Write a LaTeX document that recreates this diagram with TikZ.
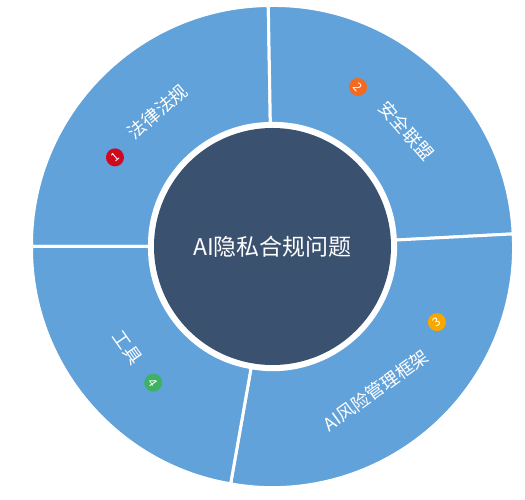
\documentclass[tikz,border=0pt]{standalone}
\usepackage{fontspec}
\setmainfont{Noto Sans CJK SC}
\definecolor{ringblue}{HTML}{62A2DA}
\definecolor{hubnavy}{HTML}{3B5170}
\definecolor{badgered}{HTML}{D00A1E}
\definecolor{badgeorange}{HTML}{F26B21}
\definecolor{badgeamber}{HTML}{F6A800}
\definecolor{badgegreen}{HTML}{3DB262}
\tikzset{
    sector/.style={fill=ringblue,draw=white,line width=3pt,rounded corners=2pt},
    hub/.style={circle,fill=hubnavy,draw=none,minimum size=237pt,inner sep=0pt,text=white,font=\fontsize{23}{23}\selectfont},
    seglabel/.style={text=white,inner sep=0pt,font=\fontsize{18}{18}\selectfont},
    badge/.style={circle,minimum size=18pt,inner sep=0pt,text=white,font=\fontsize{12}{12}\selectfont}
}
\begin{document}
\begin{tikzpicture}
    \useasboundingbox (-272.5pt,-253.5pt) rectangle (252.5pt,246.5pt);
    %% ring segments
    \foreach \a/\b in {91/180,3/91,-100/3,180/260}
        \draw[sector] (\a:123pt) arc[start angle=\a,end angle=\b,radius=123pt]
            -- (\b:241pt) arc[start angle=\b,end angle=\a,radius=241pt] -- cycle;
    %% hub
    \node[hub] (hub) at (0,0) {AI隐私合规问题};
    %% labels and badges
    \foreach \n/\txt/\t/\rot/\bt/\col in {1/法律法规/130.4/40.4/150.5/badgered,2/安全联盟/40.8/-49.2/61.8/badgeorange,3/AI风险管理框架/-54.3/35.7/-24.7/badgeamber,4/工具/215/-55/228.8/badgegreen}
    {
        \node[seglabel,rotate=\rot] (label\n) at (\t:177pt) {\txt};
        \node[badge,fill=\col,rotate=\rot] (badge\n) at (\bt:181pt) {\n};
    }
\end{tikzpicture}
\end{document}
